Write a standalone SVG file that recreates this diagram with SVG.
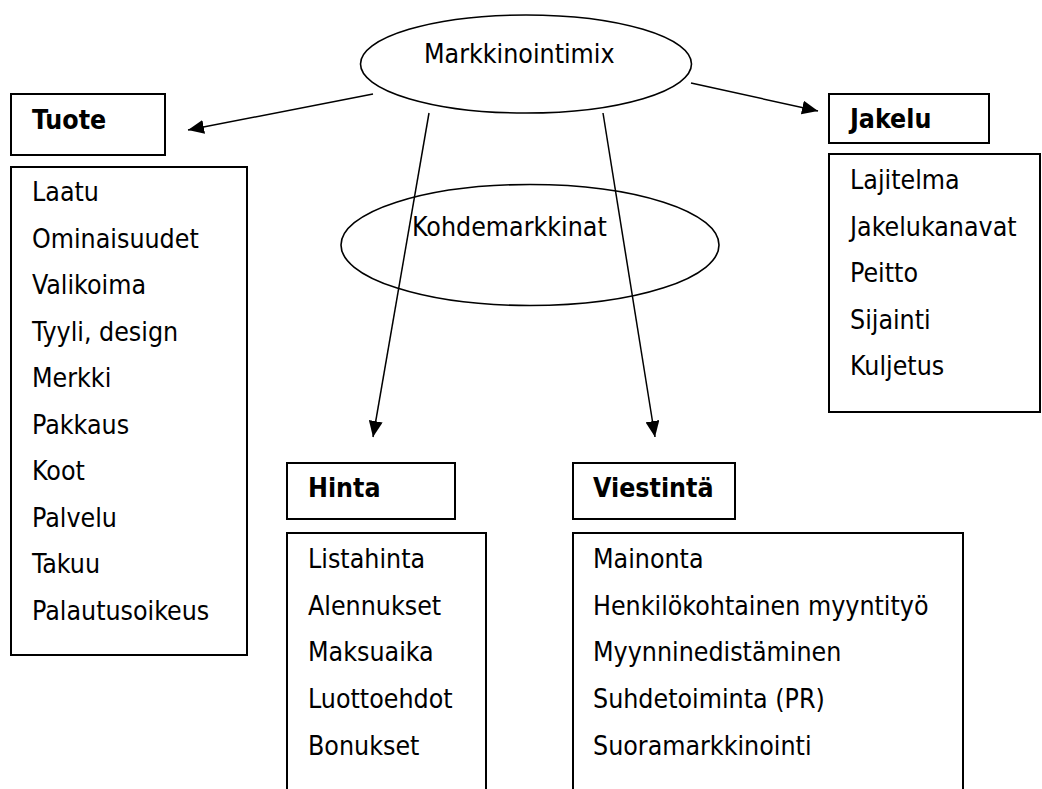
<svg xmlns="http://www.w3.org/2000/svg" width="1042" height="789" viewBox="0 0 1042 789">
  <style>
    .box { fill: #ffffff; stroke: #000000; stroke-width: 2; }
    .ell { fill: none; stroke: #000000; stroke-width: 1.6; }
    .conn { fill: none; stroke: #000000; stroke-width: 1.5; marker-end: url(#arrow); }
    text { font-family: "DejaVu Sans Condensed", "DejaVu Sans", sans-serif; font-stretch: condensed; font-size: 26.5px; fill: #000000; }
    .hdr { font-weight: bold; }
  </style>
  <defs>
    <marker id="arrow" markerUnits="userSpaceOnUse" markerWidth="17" markerHeight="14" refX="16" refY="7" orient="auto">
      <path d="M0,0 L16,7 L0,14 z" fill="#000000"/>
    </marker>
  </defs>
  <rect width="1042" height="789" fill="#ffffff"/>

  <g id="node-markkinointimix">
    <ellipse class="ell" cx="526" cy="64" rx="165.5" ry="49"/>
    <text x="424" y="63">Markkinointimix</text>
  </g>

  <g id="node-kohdemarkkinat">
    <ellipse class="ell" cx="530" cy="245" rx="189" ry="60.5"/>
    <text x="412" y="236">Kohdemarkkinat</text>
  </g>

  <g id="connectors">
    <line class="conn" x1="373" y1="94" x2="188" y2="130"/>
    <line class="conn" x1="691" y1="83" x2="818" y2="111"/>
    <line class="conn" x1="429" y1="113" x2="373" y2="437"/>
    <line class="conn" x1="603" y1="113" x2="655" y2="437"/>
  </g>

  <g id="node-tuote">
    <rect class="box" x="11" y="94" width="154" height="61"/>
    <text class="hdr" x="32" y="129">Tuote</text>
  </g>
  <g id="node-tuote-list">
    <rect class="box" x="11" y="167" width="236" height="488"/>
    <text x="32" y="201">Laatu</text>
    <text x="32" y="247.6">Ominaisuudet</text>
    <text x="32" y="294.1">Valikoima</text>
    <text x="32" y="340.7">Tyyli, design</text>
    <text x="32" y="387.2">Merkki</text>
    <text x="32" y="433.8">Pakkaus</text>
    <text x="32" y="480.3">Koot</text>
    <text x="32" y="526.9">Palvelu</text>
    <text x="32" y="573.4">Takuu</text>
    <text x="32" y="620">Palautusoikeus</text>
  </g>

  <g id="node-jakelu">
    <rect class="box" x="829" y="94" width="160" height="49"/>
    <text class="hdr" x="850" y="128">Jakelu</text>
  </g>
  <g id="node-jakelu-list">
    <rect class="box" x="829" y="154" width="211" height="258"/>
    <text x="850" y="189">Lajitelma</text>
    <text x="850" y="235.5">Jakelukanavat</text>
    <text x="850" y="282">Peitto</text>
    <text x="850" y="328.5">Sijainti</text>
    <text x="850" y="375">Kuljetus</text>
  </g>

  <g id="node-hinta">
    <rect class="box" x="287" y="463" width="168" height="56"/>
    <text class="hdr" x="308" y="497">Hinta</text>
  </g>
  <g id="node-hinta-list">
    <rect class="box" x="287" y="533" width="199" height="300"/>
    <text x="308" y="568">Listahinta</text>
    <text x="308" y="615">Alennukset</text>
    <text x="308" y="661">Maksuaika</text>
    <text x="308" y="708">Luottoehdot</text>
    <text x="308" y="755">Bonukset</text>
  </g>

  <g id="node-viestinta">
    <rect class="box" x="573" y="463" width="162" height="56"/>
    <text class="hdr" x="593" y="497">Viestintä</text>
  </g>
  <g id="node-viestinta-list">
    <rect class="box" x="573" y="533" width="390" height="300"/>
    <text x="593" y="568">Mainonta</text>
    <text x="593" y="615">Henkilökohtainen myyntityö</text>
    <text x="593" y="661">Myynninedistäminen</text>
    <text x="593" y="708">Suhdetoiminta (PR)</text>
    <text x="593" y="755">Suoramarkkinointi</text>
  </g>
</svg>
